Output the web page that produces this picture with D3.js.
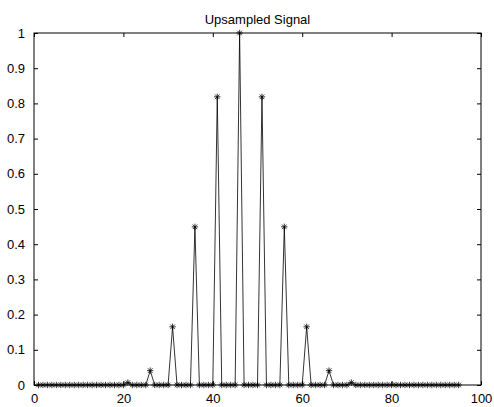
<!DOCTYPE html>
<html>
<head>
<meta charset="utf-8">
<script src="https://cdn.jsdelivr.net/npm/d3@7"></script>
<style>
  body { margin: 0; background: #fff; }
  svg text { font-family: "Liberation Sans", Arial, sans-serif; font-size: 13px; fill: #000; }
</style>
</head>
<body>
<svg id="chart" width="494" height="407"></svg>
<script>
// upsampled signal values, samples n = 1..95
var signal = [
  0, 0, 0, 0, 0,
  0, 0, 0, 0, 0,
  0, 0, 0, 0, 0,
  0.00005, 0, 0, 0, 0,
  0.0067, 0, 0, 0, 0,
  0.0408, 0, 0, 0, 0,
  0.1653, 0, 0, 0, 0,
  0.4493, 0, 0, 0, 0,
  0.8187, 0, 0, 0, 0,
  1.0, 0, 0, 0, 0,
  0.8187, 0, 0, 0, 0,
  0.4493, 0, 0, 0, 0,
  0.1653, 0, 0, 0, 0,
  0.0408, 0, 0, 0, 0,
  0.0067, 0, 0, 0, 0,
  0.00005, 0, 0, 0, 0,
  0, 0, 0, 0, 0,
  0, 0, 0, 0, 0,
  0, 0, 0, 0, 0
];
var xTicks = [0, 20, 40, 60, 80, 100];
var yTicks = [0, 0.1, 0.2, 0.3, 0.4, 0.5, 0.6, 0.7, 0.8, 0.9, 1];
var title = "Upsampled Signal";

var svg = d3.select("#chart");

var dims = { left: 34, right: 481, top: 33, bottom: 385 };

var xScale = d3.scaleLinear().domain([0, 100]).range([dims.left, dims.right]);
var yScale = d3.scaleLinear().domain([0, 1]).range([dims.bottom, dims.top]);

var points = signal.map((v, i) => ({ n: i + 1, v: v }));

// box
svg.append("rect")
  .attr("x", dims.left)
  .attr("y", dims.top)
  .attr("width", dims.right - dims.left)
  .attr("height", dims.bottom - dims.top)
  .attr("fill", "none")
  .attr("stroke", "#000")
  .attr("stroke-width", 1);

//axes with ticks pointing inwards, mirrored on top and right
var tickLen = 4;
var xAxis = d3.axisBottom(xScale).tickValues(xTicks).tickSizeInner(-tickLen).tickSizeOuter(0).tickPadding(9).tickFormat(d3.format("d"));
var xAxisTop = d3.axisTop(xScale).tickValues(xTicks).tickSizeInner(-tickLen).tickSizeOuter(0).tickFormat("");
var yAxis = d3.axisLeft(yScale).tickValues(yTicks).tickSizeInner(-tickLen).tickSizeOuter(0).tickPadding(9).tickFormat(d => d === 0 || d === 1 ? d3.format("d")(d) : d3.format(".1f")(d));
var yAxisRight = d3.axisRight(yScale).tickValues(yTicks).tickSizeInner(-tickLen).tickSizeOuter(0).tickFormat("");

[
  [xAxis, "translate(0," + dims.bottom + ")"],
  [xAxisTop, "translate(0," + dims.top + ")"],
  [yAxis, "translate(" + dims.left + ",0)"],
  [yAxisRight, "translate(" + dims.right + ",0)"]
].forEach(a => {
  var g = svg.append("g").attr("transform", a[1]).call(a[0]);
  g.select(".domain").remove();
  g.selectAll("line").attr("stroke", "#000");
  g.selectAll("text").attr("font-family", null).attr("font-size", null);
});

var line = d3.line().x(d => xScale(d.n)).y(d => yScale(d.v));

svg.append("path")
  .datum(points)
  .attr("d", line)
  .attr("fill", "none")
  .attr("stroke", "#000")
  .attr("stroke-width", 0.8);

// asterisk markers
var r = 3.2, rd = r * 0.72;
var star = "M" + (-r) + ",0L" + r + ",0M0," + (-r) + "L0," + r +
  "M" + (-rd) + "," + (-rd) + "L" + rd + "," + rd +
  "M" + (-rd) + "," + rd + "L" + rd + "," + (-rd);

svg.append("g")
  .selectAll("path")
  .data(points)
  .enter()
  .append("path")
  .attr("transform", d => "translate(" + xScale(d.n) + "," + yScale(d.v) + ")")
  .attr("d", star)
  .attr("fill", "none")
  .attr("stroke", "#000")
  .attr("stroke-width", 0.8);

svg.append("text")
  .attr("x", (dims.left + dims.right) / 2)
  .attr("y", 24)
  .attr("text-anchor", "middle")
  .text(title);
</script>
</body>
</html>
